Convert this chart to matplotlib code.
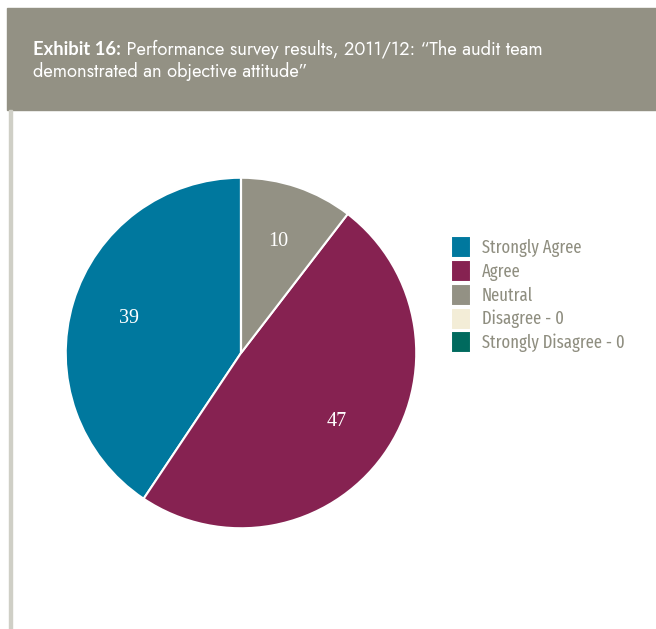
import matplotlib
matplotlib.use('Agg')
import matplotlib.pyplot as plt
from matplotlib.patches import Rectangle

# данные
categories = ['Strongly Agree', 'Agree', 'Neutral', 'Disagree - 0', 'Strongly Disagree - 0']
values = [39, 47, 10, 0, 0]
colors = ['#00789e', '#862251', '#939184', '#f3edd7', '#006a5e']

title_bold = 'Exhibit 16:'
title_rest = ' Performance survey results, 2011/12: \u201cThe audit team'
title_line2 = 'demonstrated an objective attitude\u201d'

W, H = 656, 629
fig = plt.figure(figsize=(W / 100, H / 100), dpi=100)
fig.patch.set_facecolor('white')

title_font = ['Jost', 'Lato', 'DejaVu Sans']
legend_font = ['Fira Sans Extra Condensed', 'Roboto Condensed', 'DejaVu Sans']

# шапка
fig.patches.append(Rectangle((7 / W, 1 - 110 / H), 1 - 7 / W, 102 / H,
                             transform=fig.transFigure, color='#939184', zorder=0))
# левая вертикальная линия
fig.patches.append(Rectangle((9 / W, 0), 3 / W, 1 - 110 / H,
                             transform=fig.transFigure, color='#cfcfc6', zorder=0))

t1 = fig.text(33 / W, 1 - 55 / H, title_bold, color='white', fontsize=13.2,
              fontweight='bold', family=['Lato', 'DejaVu Sans'], va='baseline')
r = fig.canvas.get_renderer()
bb = t1.get_window_extent(renderer=r)
fig.text(bb.x1 / W, 1 - 55 / H, title_rest, color='white', fontsize=13.2,
         family=title_font, va='baseline')
fig.text(33 / W, 1 - 77 / H, title_line2, color='white', fontsize=13.2,
         family=title_font, va='baseline')

# круговая диаграмма
cx, cy, rad = 241, 353, 177
ax = fig.add_axes([(cx - rad) / W, (H - cy - rad) / H, 2 * rad / W, 2 * rad / H])
wedges, texts, autotexts = ax.pie(values, colors=colors, startangle=90, counterclock=True,
                                  autopct=lambda p: '%d' % round(p * sum(values) / 100) if p > 0 else '',
                                  pctdistance=0.67, radius=1,
                                  wedgeprops=dict(edgecolor='white', linewidth=1.5),
                                  textprops=dict(color='white', fontsize=14.5,
                                                 family=['Liberation Serif', 'DejaVu Serif']))
ax.set_xlim(-1.01, 1.01)
ax.set_ylim(-1.01, 1.01)

fs = 13
fig.legend(wedges, categories, loc='upper left',
           bbox_to_anchor=(451 / W, 1 - 236 / H), frameon=False,
           prop=dict(family=legend_font, size=fs, stretch='condensed'), labelcolor='#8f8e80',
           handlelength=1.11, handleheight=1.5, labelspacing=0.1,
           handletextpad=0.6, borderpad=0, borderaxespad=0)

plt.savefig('out.png', dpi=100)
